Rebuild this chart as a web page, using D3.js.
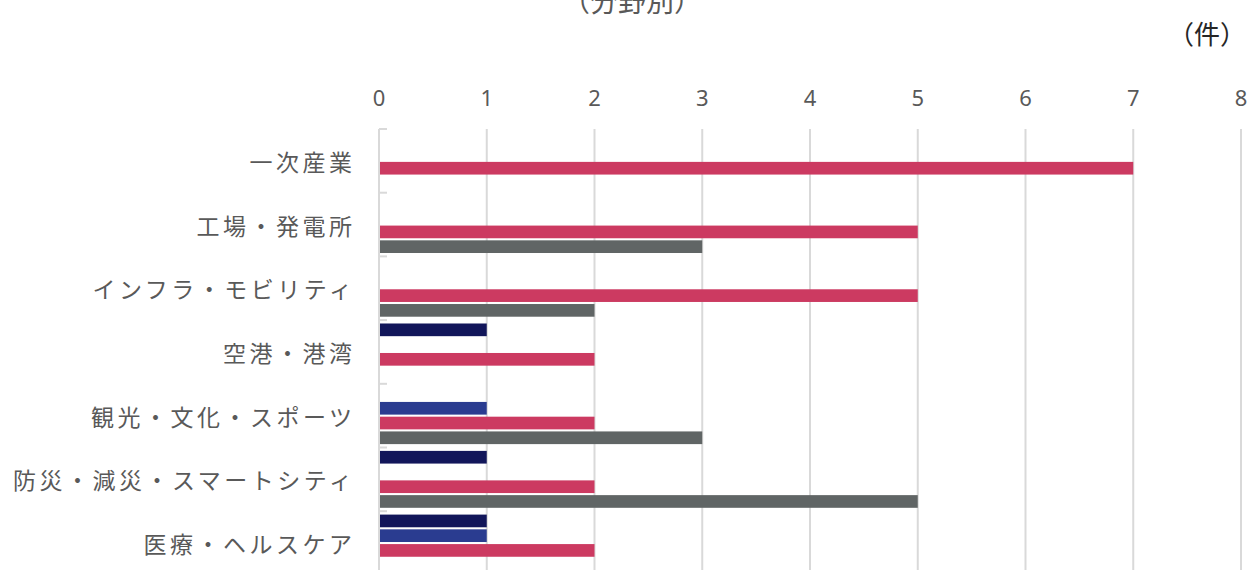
<!DOCTYPE html>
<html>
<head>
<meta charset="utf-8">
<script src="https://cdn.jsdelivr.net/npm/d3@7"></script>
<style>
	body { margin: 0; background: #fff; }
	text { font-family: "Noto Sans CJK JP", "Noto Sans", sans-serif; fill: #595959; }
</style>
</head>
<body>
<svg id="chart" width="1250" height="570"></svg>
<script>
var categories = ["一次産業", "工場・発電所", "インフラ・モビリティ", "空港・港湾", "観光・文化・スポーツ", "防災・減災・スマートシティ", "医療・ヘルスケア"];
var series = ["s1", "s2", "s3", "s4"];
var series_colors = ["#12165a", "#2a3c90", "#cc3a61", "#606565"];
var s1_values = [0, 0, 0, 1, 0, 1, 1];
var s2_values = [0, 0, 0, 0, 1, 0, 1];
var s3_values = [7, 5, 5, 2, 2, 2, 2];
var s4_values = [0, 3, 2, 0, 3, 5, 0];
var x_ticks = [0, 1, 2, 3, 4, 5, 6, 7, 8];

function draw_chart() {
	var svg = d3.select("#chart");
	var all_values = [s1_values, s2_values, s3_values, s4_values];

	var x = d3.scaleLinear().domain([0, 8]).range([379, 1241]);
	var y = d3.scaleBand().domain(categories).range([129, 129 + 7 * 63.7]).padding(0);
	var y_inner = d3.scaleBand().domain(series).range([0, y.bandwidth()])
					.paddingInner(0.14).paddingOuter(0.23);

	// gridlines
	svg.append("g")
	   .selectAll("line")
	   .data(x_ticks)
	   .enter().append("line")
		.attr("x1", function(d) { return x(d); })
		.attr("x2", function(d) { return x(d); })
		.attr("y1", 129)
		.attr("y2", 580)
		.attr("stroke", "#d9d9d9")
		.attr("stroke-width", 2);

	// category ticks on the left axis
	svg.append("g")
	   .selectAll("line")
	   .data(d3.range(categories.length + 1))
	   .enter().append("line")
		.attr("x1", x(0))
		.attr("x2", x(0) + 8)
		.attr("y1", function(i) { return 129 + i * y.step(); })
		.attr("y2", function(i) { return 129 + i * y.step(); })
		.attr("stroke", "#d9d9d9")
		.attr("stroke-width", 2);

	// x tick labels on top
	svg.append("g")
	   .selectAll("text")
	   .data(x_ticks)
	   .enter().append("text")
		.attr("x", function(d) { return x(d); })
		.attr("y", 97)
		.attr("text-anchor", "middle")
		.attr("dominant-baseline", "central")
		.style("font-family", "'Noto Sans', sans-serif")
		.style("font-size", "22px")
		.text(function(d) { return d; });

	// category labels
	svg.append("g")
	   .selectAll("text")
	   .data(categories)
	   .enter().append("text")
		.attr("x", 355.5)
		.attr("y", function(d) { return y(d) + y.bandwidth() / 2; })
		.attr("text-anchor", "end")
		.attr("dominant-baseline", "central")
		.style("font-size", "23px")
		.style("letter-spacing", "3.5px")
		.text(function(d) { return d; });

	// bars
	var groups = svg.append("g")
					.selectAll("g")
					.data(categories)
					.enter().append("g")
					.attr("transform", function(d) { return "translate(0," + y(d) + ")"; });

	groups.selectAll("rect")
		  .data(function(d, i) {
			  return series.map(function(s, j) { return {key: s, idx: j, value: all_values[j][i]}; })
						   .filter(function(e) { return e.value > 0; });
		  })
		  .enter().append("rect")
			.attr("x", x(0) + 1)
			.attr("y", function(d) { return y_inner(d.key); })
			.attr("width", function(d) { return x(d.value) - x(0) - 1; })
			.attr("height", y_inner.bandwidth())
			.attr("fill", function(d) { return series_colors[d.idx]; });

	// titles
	svg.append("text")
	   .attr("x", 632)
	   .attr("y", 12)
	   .attr("text-anchor", "middle")
	   .style("font-size", "28px")
	   .text("（分野別）");

	svg.append("text")
	   .attr("x", 1207)
	   .attr("y", 32)
	   .attr("text-anchor", "middle")
	   .attr("dominant-baseline", "central")
	   .style("font-size", "26px")
	   .style("fill", "#262626")
	   .text("（件）");
}

draw_chart();
</script>
</body>
</html>
